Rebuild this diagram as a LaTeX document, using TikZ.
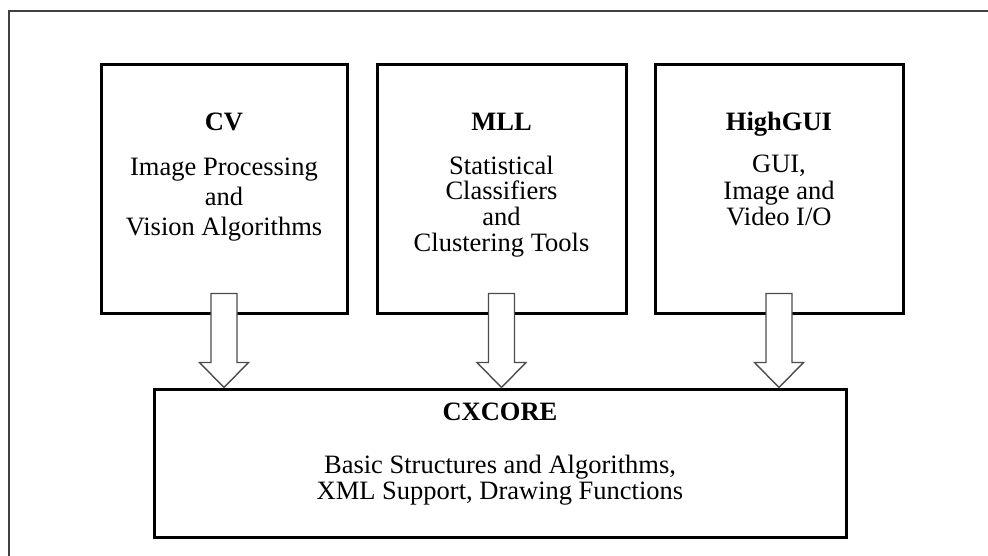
\documentclass[tikz,border=0pt]{standalone}
\usepackage{fontspec}
\setmainfont{Liberation Serif}
\usetikzlibrary{calc}
\begin{document}
\begin{tikzpicture}[x=1pt,y=-1pt,
  frame/.style={draw=black!75, line width=2pt},
  module/.style={draw=black, line width=3pt, fill=white, inner sep=0pt},
  title/.style={font=\fontsize{26.5}{30}\selectfont\bfseries, inner sep=0pt, anchor=base},
  body/.style={align=center, inner sep=0pt, font=\fontsize{26.5}{#1}\selectfont},
  blockarrow/.style={draw=black!70, line width=1.4pt, fill=white, line join=miter}]
  % page area
  \fill[white] (0,0) rectangle (988,556);
  \useasboundingbox (0,0) rectangle (988,556);
  % outer frame (runs off the page at right and bottom)
  \draw[frame] (9,556) -- (9,11) -- (988,11);

  % library modules
  \node[module, minimum width=246pt, minimum height=248pt] (cv)   at (224,189) {};
  \node[module, minimum width=249pt, minimum height=248pt] (mll)  at (501.5,189) {};
  \node[module, minimum width=248pt, minimum height=248pt] (gui)  at (779,189) {};
  \node[module, minimum width=692pt, minimum height=148pt] (core) at (500,463) {};

  % module texts
  \node[title] (cvT)  at ($(cv.north)+(0,67)$) {CV};
  \node[body=30] (cvB) at ($(cv.north)+(0,136)$) {Image Processing\\and\\Vision Algorithms};
  \node[title] (mllT) at ($(mll.north)+(0,67)$) {MLL};
  \node[body=25.7] (mllB) at ($(mll.north)+(0,143)$) {Statistical\\Classifiers\\and\\Clustering Tools};
  \node[title] (guiT) at ($(gui.north)+(0,67)$) {HighGUI};
  \node[body=26.5] (guiB) at ($(gui.north)+(0,127)$) {GUI,\\Image and\\Video I/O};
  \node[title] (coreT) at ($(core.north)+(0,33)$) {CXCORE};
  \node[body=26] (coreB) at ($(core.north)+(0,93)$) {Basic Structures and Algorithms,\\XML Support, Drawing Functions};

  % hollow block arrows from each module down to the core
  \newcommand\blockarrowfromto[2]{%
    \draw[blockarrow] ($(#1)+(-13,0)$) -- ($(#1)+(13,0)$) -- ($(#2)+(13,-25)$)
      -- ($(#2)+(24.5,-25)$) -- (#2) -- ($(#2)+(-24.5,-25)$) -- ($(#2)+(-13,-25)$) -- cycle;}
  \coordinate (cvA)  at ($(cv.south)+(0,-21)$);
  \coordinate (mllA) at ($(mll.south)+(0,-21)$);
  \coordinate (guiA) at ($(gui.south)+(0,-21)$);
  \blockarrowfromto{cvA}{cv.south |- core.north}
  \blockarrowfromto{mllA}{mll.south |- core.north}
  \blockarrowfromto{guiA}{gui.south |- core.north}
\end{tikzpicture}
\end{document}
